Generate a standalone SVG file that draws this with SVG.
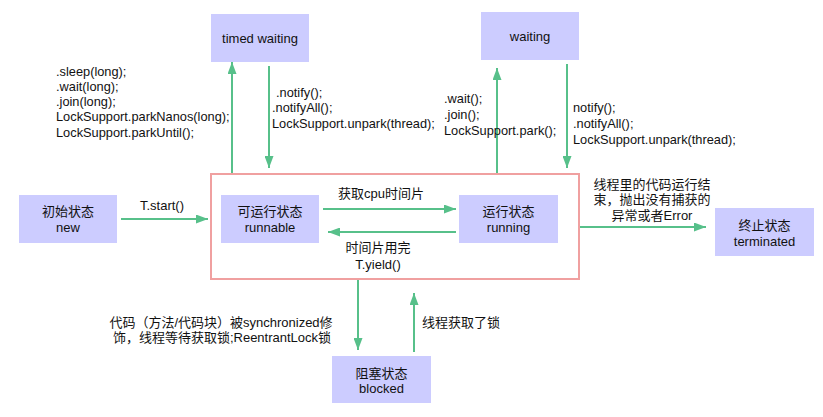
<svg xmlns="http://www.w3.org/2000/svg" width="823" height="417" viewBox="0 0 823 417">
<defs>
<style>
.box{fill:#CCCCFF;}
.t{font-family:"Liberation Sans","Noto Sans CJK SC",sans-serif;font-size:13px;fill:#111;}
.m{font-family:"Liberation Sans","Noto Sans CJK SC",sans-serif;font-size:12.8px;fill:#111;}
.c{text-anchor:middle;}
.ln{stroke:#57C08A;stroke-width:2;fill:none;marker-end:url(#ah);}
</style>
<marker id="ah" markerUnits="userSpaceOnUse" markerWidth="12" markerHeight="9" refX="12" refY="4.5" orient="auto">
<path d="M0,0 L12,4.5 L0,9 z" fill="#57C08A"/>
</marker>
</defs>
<rect width="823" height="417" fill="#ffffff"/>
<rect id="container" x="211" y="174" width="368" height="105" fill="none" stroke="#F0A0A0" stroke-width="2"/>
<g id="connectors">
<line class="ln" x1="232" y1="173" x2="232" y2="62"/>
<line class="ln" x1="269" y1="66" x2="269" y2="168"/>
<line class="ln" x1="497" y1="173" x2="497" y2="68"/>
<line class="ln" x1="567" y1="64" x2="567" y2="168"/>
<line class="ln" x1="121" y1="219" x2="208" y2="219"/>
<line class="ln" x1="323" y1="209" x2="456" y2="209"/>
<line class="ln" x1="456" y1="232" x2="328" y2="232"/>
<line class="ln" x1="580" y1="227" x2="706" y2="227"/>
<line class="ln" x1="358" y1="280" x2="358" y2="350"/>
<line class="ln" x1="414" y1="352" x2="414" y2="293"/>
</g>
<g id="timed_waiting">
<rect class="box" x="211" y="14" width="98" height="48"/>
<text class="t c" x="260" y="43">timed waiting</text>
</g>
<g id="waiting">
<rect class="box" x="481" y="12" width="98" height="48"/>
<text class="t c" x="530" y="41">waiting</text>
</g>
<g id="new">
<rect class="box" x="19" y="195" width="98" height="48"/>
<text class="t c" x="68" y="216">初始状态</text>
<text class="t c" x="68" y="232">new</text>
</g>
<g id="runnable">
<rect class="box" x="221" y="195" width="98" height="48"/>
<text class="t c" x="270" y="216">可运行状态</text>
<text class="t c" x="270" y="232">runnable</text>
</g>
<g id="running">
<rect class="box" x="459" y="195" width="99" height="48"/>
<text class="t c" x="508.5" y="216">运行状态</text>
<text class="t c" x="508.5" y="232">running</text>
</g>
<g id="terminated">
<rect class="box" x="715" y="208" width="99" height="48"/>
<text class="t c" x="764.5" y="230">终止状态</text>
<text class="t c" x="764.5" y="246">terminated</text>
</g>
<g id="blocked">
<rect class="box" x="332" y="356" width="99" height="47"/>
<text class="t c" x="381.5" y="378">阻塞状态</text>
<text class="t c" x="381.5" y="393">blocked</text>
</g>
<g id="labels">
<text class="m" x="56" y="76">.sleep(long);</text>
<text class="m" x="56" y="91">.wait(long);</text>
<text class="m" x="56" y="106">.join(long);</text>
<text class="m" x="56" y="121">LockSupport.parkNanos(long);</text>
<text class="m" x="56" y="137">LockSupport.parkUntil();</text>
<text class="m" x="276" y="97">.notify();</text>
<text class="m" x="272" y="112">.notifyAll();</text>
<text class="m" x="272" y="128">LockSupport.unpark(thread);</text>
<text class="m" x="444" y="103">.wait();</text>
<text class="m" x="444" y="119">.join();</text>
<text class="m" x="444" y="135">LockSupport.park();</text>
<text class="m" x="573" y="112">notify();</text>
<text class="m" x="573" y="128">.notifyAll();</text>
<text class="m" x="573" y="144">LockSupport.unpark(thread);</text>
<text class="t c" x="162" y="210">T.start()</text>
<text class="t" x="338" y="198">获取cpu时间片</text>
<text class="t c" x="378" y="252">时间片用完</text>
<text class="t c" x="378" y="269">T.yield()</text>
<text class="t c" x="652" y="189">线程里的代码运行结</text>
<text class="t c" x="652" y="204">束，抛出没有捕获的</text>
<text class="t c" x="652" y="220">异常或者Error</text>
<text class="t c" x="221" y="327">代码（方法/代码块）被synchronized修</text>
<text class="t c" x="222" y="342">饰，线程等待获取锁;ReentrantLock锁</text>
<text class="t" x="422" y="327">线程获取了锁</text>
</g>
</svg>
